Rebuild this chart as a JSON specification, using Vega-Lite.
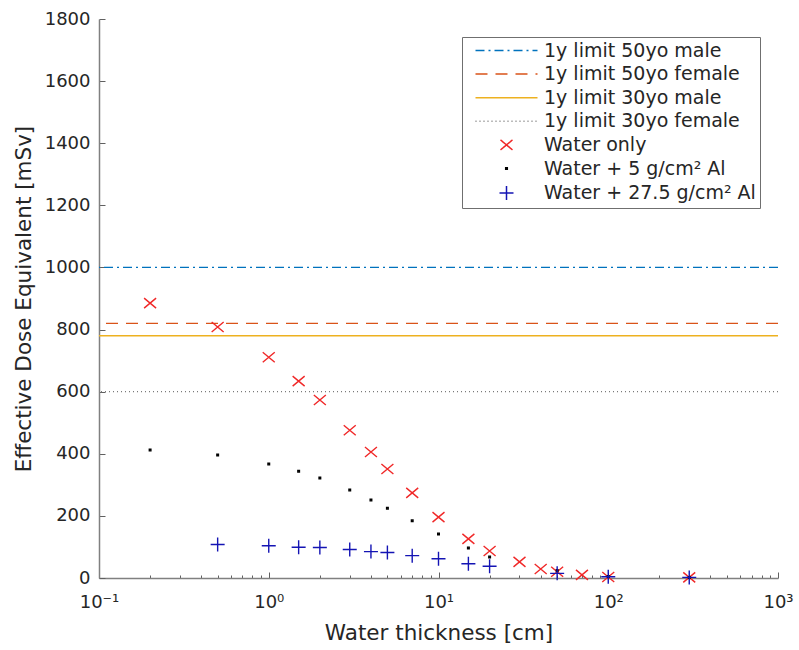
{
  "$schema": "https://vega.github.io/schema/vega-lite/v6.json",
  "width": 679,
  "height": 559,
  "autosize": {"type": "none"},
  "padding": {"left": 99, "top": 19, "right": 21, "bottom": 72},
  "background": "white",
  "config": {
    "view": {"stroke": null},
    "font": "DejaVu Sans",
    "axis": {
      "grid": false,
      "domainColor": "#808080",
      "domainWidth": 1.5,
      "tickColor": "#606060",
      "tickWidth": 1,
      "labelColor": "#262626",
      "labelFontSize": 18,
      "labelFont": "DejaVu Sans",
      "titleColor": "#262626",
      "titleFont": "DejaVu Sans",
      "titleFontSize": 21.5,
      "titleFontWeight": "normal",
      "titleLimit": 800,
      "labelLimit": 300
    },
    "legend": {
      "orient": "top-right",
      "offset": 18,
      "strokeColor": "#6f6f6f",
      "fillColor": "white",
      "padding": 4,
      "labelFont": "DejaVu Sans",
      "labelFontSize": 19,
      "labelColor": "#262626",
      "labelLimit": 400,
      "symbolOffset": 31,
      "labelOffset": 28,
      "rowPadding": 3.6,
      "symbolStrokeWidth": 1.5,
      "symbolSize": 100
    }
  },
  "datasets": {
    "limits": [
      {"series": "1y limit 50yo male", "dose": 1000},
      {"series": "1y limit 50yo female", "dose": 820},
      {"series": "1y limit 30yo male", "dose": 780},
      {"series": "1y limit 30yo female", "dose": 600}
    ],
    "points": [
      {"series": "Water only", "thickness": 0.2, "dose": 885},
      {"series": "Water only", "thickness": 0.5, "dose": 808},
      {"series": "Water only", "thickness": 1, "dose": 711},
      {"series": "Water only", "thickness": 1.5, "dose": 634},
      {"series": "Water only", "thickness": 2, "dose": 573},
      {"series": "Water only", "thickness": 3, "dose": 476},
      {"series": "Water only", "thickness": 4, "dose": 406},
      {"series": "Water only", "thickness": 5, "dose": 351},
      {"series": "Water only", "thickness": 7, "dose": 274},
      {"series": "Water only", "thickness": 10, "dose": 196},
      {"series": "Water only", "thickness": 15, "dose": 126},
      {"series": "Water only", "thickness": 20, "dose": 87},
      {"series": "Water only", "thickness": 30, "dose": 52},
      {"series": "Water only", "thickness": 40, "dose": 29},
      {"series": "Water only", "thickness": 50, "dose": 20},
      {"series": "Water only", "thickness": 70, "dose": 10},
      {"series": "Water only", "thickness": 100, "dose": 3},
      {"series": "Water only", "thickness": 300, "dose": 2},
      {"series": "Water + 5 g/cm² Al", "thickness": 0.2, "dose": 412},
      {"series": "Water + 5 g/cm² Al", "thickness": 0.5, "dose": 396},
      {"series": "Water + 5 g/cm² Al", "thickness": 1, "dose": 367},
      {"series": "Water + 5 g/cm² Al", "thickness": 1.5, "dose": 344},
      {"series": "Water + 5 g/cm² Al", "thickness": 2, "dose": 322},
      {"series": "Water + 5 g/cm² Al", "thickness": 3, "dose": 283},
      {"series": "Water + 5 g/cm² Al", "thickness": 4, "dose": 251},
      {"series": "Water + 5 g/cm² Al", "thickness": 5, "dose": 225},
      {"series": "Water + 5 g/cm² Al", "thickness": 7, "dose": 184},
      {"series": "Water + 5 g/cm² Al", "thickness": 10, "dose": 142},
      {"series": "Water + 5 g/cm² Al", "thickness": 15, "dose": 97},
      {"series": "Water + 5 g/cm² Al", "thickness": 20, "dose": 68},
      {"series": "Water + 5 g/cm² Al", "thickness": 50, "dose": 24},
      {"series": "Water + 5 g/cm² Al", "thickness": 100, "dose": 5},
      {"series": "Water + 5 g/cm² Al", "thickness": 300, "dose": 2},
      {"series": "Water + 27.5 g/cm² Al", "thickness": 0.5, "dose": 108},
      {"series": "Water + 27.5 g/cm² Al", "thickness": 1, "dose": 104},
      {"series": "Water + 27.5 g/cm² Al", "thickness": 1.5, "dose": 99},
      {"series": "Water + 27.5 g/cm² Al", "thickness": 2, "dose": 98},
      {"series": "Water + 27.5 g/cm² Al", "thickness": 3, "dose": 92},
      {"series": "Water + 27.5 g/cm² Al", "thickness": 4, "dose": 85},
      {"series": "Water + 27.5 g/cm² Al", "thickness": 5, "dose": 82},
      {"series": "Water + 27.5 g/cm² Al", "thickness": 7, "dose": 72},
      {"series": "Water + 27.5 g/cm² Al", "thickness": 10, "dose": 62},
      {"series": "Water + 27.5 g/cm² Al", "thickness": 15, "dose": 46},
      {"series": "Water + 27.5 g/cm² Al", "thickness": 20, "dose": 38},
      {"series": "Water + 27.5 g/cm² Al", "thickness": 50, "dose": 15},
      {"series": "Water + 27.5 g/cm² Al", "thickness": 100, "dose": 4},
      {"series": "Water + 27.5 g/cm² Al", "thickness": 300, "dose": 2}
    ]
  },
  "layer": [
    {
      "data": {"name": "limits"},
      "mark": {"type": "rule", "strokeWidth": 1.3},
      "encoding": {
        "y": {
          "field": "dose",
          "type": "quantitative",
          "scale": {"domain": [0, 1800], "nice": false, "zero": true},
          "axis": {
            "title": "Effective Dose Equivalent [mSv]",
            "values": [0, 200, 400, 600, 800, 1000, 1200, 1400, 1600, 1800],
            "format": "d",
            "tickSize": -6,
            "labelPadding": 15,
            "titlePadding": 9
          }
        },
        "color": {
          "field": "series",
          "type": "nominal",
          "scale": {
            "domain": ["1y limit 50yo male", "1y limit 50yo female", "1y limit 30yo male", "1y limit 30yo female", "Water only", "Water + 5 g/cm² Al", "Water + 27.5 g/cm² Al"],
            "range": ["#0072BD", "#D95319", "#EDB120", "#7a7a7a", "#f02828", "#000000", "#1414b4"]
          },
          "legend": {"title": null}
        },
        "strokeDash": {
          "field": "series",
          "type": "nominal",
          "scale": {
            "domain": ["1y limit 50yo male", "1y limit 50yo female", "1y limit 30yo male", "1y limit 30yo female", "Water only", "Water + 5 g/cm² Al", "Water + 27.5 g/cm² Al"],
            "range": [[9, 4, 2, 4], [12, 8], [1, 0], [1, 3], [1, 0], [1, 0], [1, 0]]
          },
          "legend": {"title": null}
        }
      }
    },
    {
      "data": {"name": "points"},
      "mark": {"type": "point", "filled": false, "size": 100, "strokeWidth": 1.4, "opacity": 1},
      "encoding": {
        "x": {
          "field": "thickness",
          "type": "quantitative",
          "scale": {"type": "log", "domain": [0.1, 1000], "nice": false},
          "axis": {
            "title": "Water thickness [cm]",
            "values": [0.1, 0.2, 0.3, 0.4, 0.5, 0.6, 0.7, 0.8, 0.9, 1, 2, 3, 4, 5, 6, 7, 8, 9, 10, 20, 30, 40, 50, 60, 70, 80, 90, 100, 200, 300, 400, 500, 600, 700, 800, 900, 1000],
            "labelExpr": "datum.value == 0.1 ? '10⁻¹' : datum.value == 1 ? '10⁰' : datum.value == 10 ? '10¹' : datum.value == 100 ? '10²' : datum.value == 1000 ? '10³' : ''",
            "labelFlush": false,
            "labelOverlap": false,
            "tickSize": {"condition": {"test": "datum.value == 0.1 || datum.value == 1 || datum.value == 10 || datum.value == 100 || datum.value == 1000", "value": -6}, "value": -3},
            "labelPadding": 21,
            "titlePadding": 8
          }
        },
        "y": {"field": "dose", "type": "quantitative"},
        "color": {
          "field": "series",
          "type": "nominal",
          "legend": {"title": null}
        },
        "shape": {
          "field": "series",
          "type": "nominal",
          "scale": {
            "domain": ["1y limit 50yo male", "1y limit 50yo female", "1y limit 30yo male", "1y limit 30yo female", "Water only", "Water + 5 g/cm² Al", "Water + 27.5 g/cm² Al"],
            "range": ["M-6.2,0L6.2,0", "M-6.2,0L6.2,0", "M-6.2,0L6.2,0", "M-6.2,0L6.2,0", "M-1.2,-1L1.2,1M-1.2,1L1.2,-1", "M-0.16,-0.16L0.16,-0.16L0.16,0.16L-0.16,0.16Z", "M-1.4,0L1.4,0M0,-1.4L0,1.4"]
          },
          "legend": {"title": null}
        }
      }
    }
  ]
}
